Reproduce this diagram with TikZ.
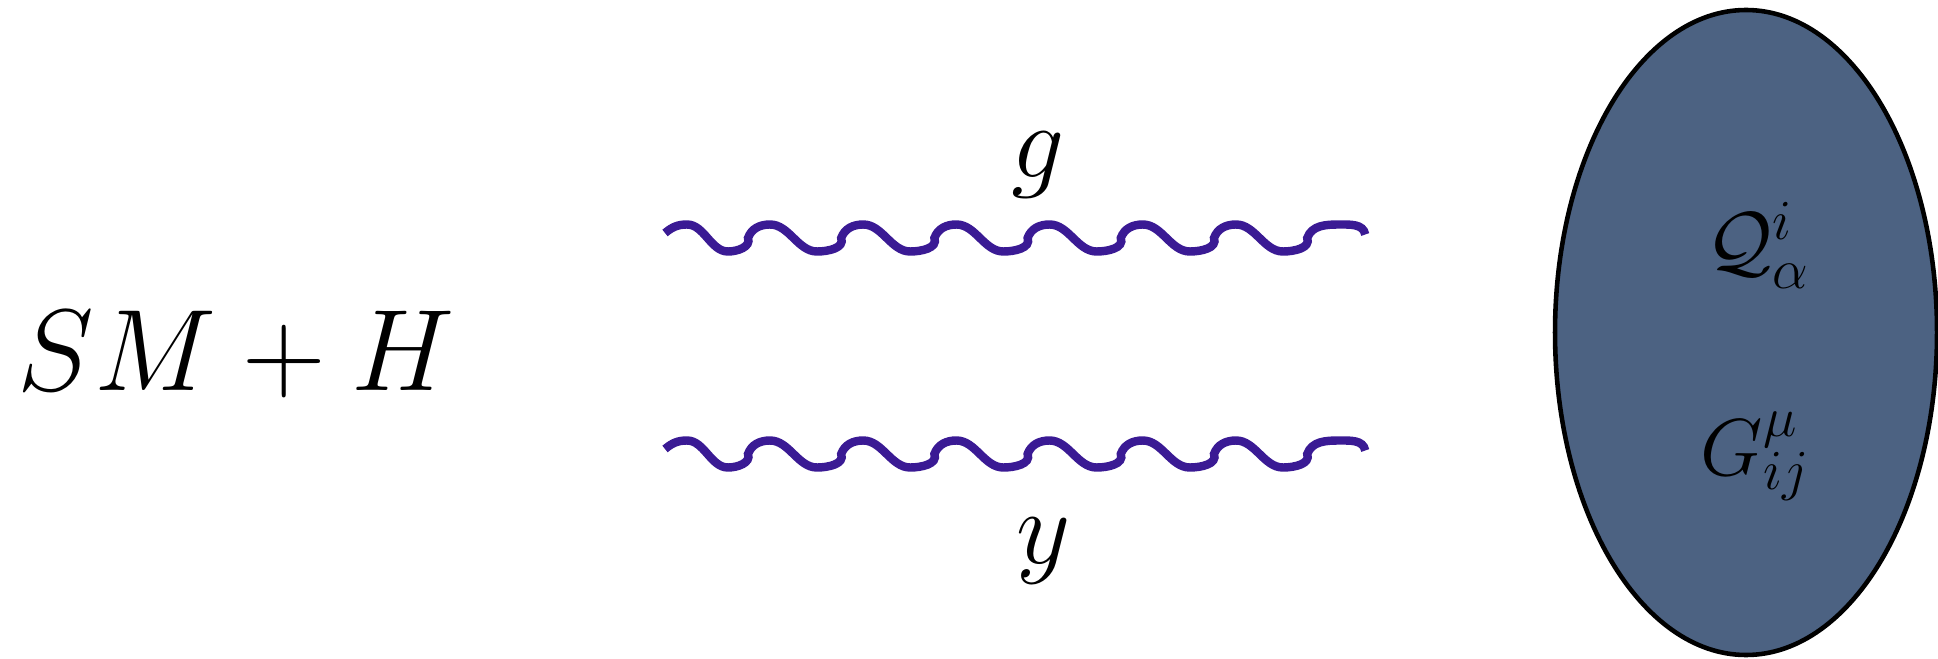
\RequirePackage{fix-cm}
\documentclass[tikz,border=0pt]{standalone}
\usetikzlibrary{positioning,calc}
\definecolor{wavecol}{RGB}{58,26,148}
\definecolor{blobcol}{RGB}{76,98,130}
\tikzset{
  wave/.style={draw=wavecol,line width=2.4pt,line cap=butt},
  blob/.style={draw=black,line width=1.3pt,fill=blobcol},
  bigtxt/.style={font=\fontsize{33}{40}\selectfont,inner sep=0pt},
  lbl/.style={font=\fontsize{30}{36}\selectfont,inner sep=0pt},
  fld/.style={font=\fontsize{23}{28}\selectfont,inner sep=0pt},
}
\newcommand{\amp}{0.135}
\begin{document}
\begin{tikzpicture}
  \useasboundingbox (0,0) rectangle (19.38,6.58);
  % left: model
  \node[bigtxt,anchor=base west] (smh) at (0.17,2.68) {$SM+H$};
  % wiggly lines, end points
  \coordinate (gs) at (6.65,4.25); \coordinate (ge) at (13.65,4.23);
  \coordinate (ys) at (6.65,2.09); \coordinate (ye) at (13.65,2.07);
  \foreach \s in {gs,ys}{
    \draw[wave] (\s) to[out=40,in=180] ++(0.22,0.085)
      to[out=0,in=180,looseness=0.9] ++(0.41,-2*\amp) to[out=0,in=-70] ++(0.20,\amp)
      \foreach \k in {1,...,6}{
        to[out=70,in=180] ++(0.22,\amp)
        to[out=0,in=180,looseness=0.9] ++(0.47,-2*\amp) to[out=0,in=-70] ++(0.242,\amp)
      }
      to[out=70,in=180] ++(0.32,\amp) to[out=0,in=100] ++(0.26,-0.10);
  }
  \node[lbl,anchor=base] (glbl) at (10.38,4.80) {$g$};
  \node[lbl,anchor=base] (ylbl) at (10.44,0.95) {$y$};
  % right: hidden sector
  \draw[blob] (17.46,3.255) ellipse [x radius=1.91, y radius=3.225];
  \node[fld,anchor=base west] (qf) at (17.06,3.89) {$\mathcal{Q}^{i}_{\alpha}$};
  \node[fld,anchor=base west] (gf) at (17.00,1.83) {$G^{\mu}_{ij}$};
\end{tikzpicture}
\end{document}
